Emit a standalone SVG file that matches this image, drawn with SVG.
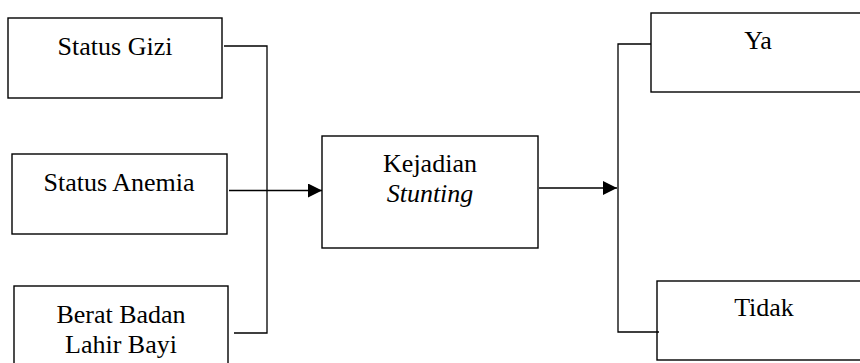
<svg xmlns="http://www.w3.org/2000/svg" width="860" height="363" viewBox="0 0 860 363">
<style>
rect{fill:#fff;stroke:#000;stroke-width:1.4}
text{font-size:26px;fill:#000;text-anchor:middle}
.c{fill:none;stroke:#000;stroke-width:1.3}
</style>
<defs>
<marker id="ah" markerWidth="14" markerHeight="14" refX="14" refY="7" orient="auto" markerUnits="userSpaceOnUse">
<path d="M0,0 L14,7 L0,14 Z" fill="#000"/>
</marker>
</defs>
<g font-family="'Liberation Serif', 'Times New Roman', 'DejaVu Serif', serif">
<g id="status-gizi"><rect x="8" y="18" width="214" height="80"/><text x="115" y="55">Status Gizi</text></g>
<g id="status-anemia"><rect x="12" y="154" width="215" height="80"/><text x="119" y="191">Status Anemia</text></g>
<g id="berat-badan"><rect x="14" y="286" width="214" height="100"/><text x="121" y="323">Berat Badan</text><text x="121" y="353">Lahir Bayi</text></g>
<g id="kejadian"><rect x="322" y="136" width="216" height="112"/><text x="430" y="172">Kejadian</text><text x="430" y="202" font-style="italic">Stunting</text></g>
<g id="ya"><rect x="651" y="13" width="230" height="79"/><text x="758" y="49">Ya</text></g>
<g id="tidak"><rect x="657" y="281" width="230" height="79"/><text x="764" y="316">Tidak</text></g>
</g>
<g id="connectors">
<path class="c" d="M224,46 H267 V333 H234"/>
<path class="c" d="M229,190.5 H322" marker-end="url(#ah)"/>
<path class="c" d="M539,188 H617" marker-end="url(#ah)"/>
<path class="c" d="M651,44 H618 V332 H659"/>
</g>
</svg>
